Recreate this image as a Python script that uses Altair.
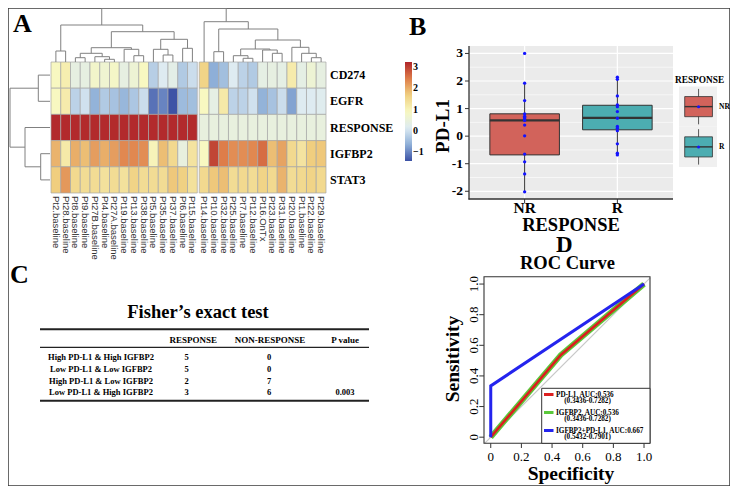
import altair as alt
import pandas as pd

# ---------------- Panel A: heatmap data ----------------
left_samples = ["Pt2.baseline", "Pt28.baseline", "Pt8.baseline", "Pt9.baseline", "Pt27B.baseline",
                "Pt4.baseline", "Pt27A.baseline", "Pt19.baseline", "Pt13.baseline", "Pt38.baseline",
                "Pt5.baseline", "Pt35.baseline", "Pt37.baseline", "Pt6.baseline", "Pt15.baseline"]
right_samples = ["Pt14.baseline", "Pt10.baseline", "Pt32.baseline", "Pt25.baseline", "Pt7.baseline",
                 "Pt12.baseline", "Pt16.OnTx", "Pt23.baseline", "Pt31.baseline", "Pt20.baseline",
                 "Pt1.baseline", "Pt22.baseline", "Pt29.baseline"]
genes = ["CD274", "EGFR", "RESPONSE", "IGFBP2", "STAT3"]

cd274 = [0.9, 1.1, 0.4, 0.4, 0.75, 0.65, 0.8, 0.4, 0.6, 0.9, -0.25, 0.15, 0.3, -0.3, -0.05,
         1.6, -0.65, -0.45, 0.15, -0.2, -0.3, 0.35, 0.4, 0.35, 1.15, 0.35, 0.6, 0.4]
egfr = [0.9, 1.15, -0.2, 0.0, -0.6, -0.3, -0.4, -0.55, -0.35, -0.05, -1.15, -1.0, -1.4, -0.5, -0.45,
        0.9, 0.35, 1.2, -0.2, -0.2, 0.0, -0.6, -0.4, -0.05, -0.75, 0.15, 0.15, 0.2]
response = [3.2, 3.2, 3.2, 3.2, 3.2, 3.2, 3.2, 3.2, 3.2, 3.2, 3.2, 3.2, 3.2, 3.2, 3.2,
            0.45, 0.45, 0.45, 0.45, 0.45, 0.45, 0.45, 0.45, 0.45, 0.45, 0.45, 0.45, 0.45]
igfbp2 = [1.95, 1.2, 2.0, 1.85, 2.15, 2.0, 2.15, 2.35, 2.35, 2.3, 1.0, 1.85, 1.5, 0.45, 1.3,
          0.9, 2.95, 2.45, 2.3, 2.3, 2.35, 2.6, 1.85, 2.1, 1.5, 1.3, 1.7, 1.75]
stat3 = [1.7, 2.2, 1.5, 1.45, 1.45, 1.35, 1.45, 1.35, 1.6, 1.45, 1.45, 1.45, 1.75, 1.65, 1.35,
         1.5, 1.75, 1.85, 1.45, 1.5, 1.45, 1.6, 1.5, 1.95, 1.45, 1.5, 1.6, 1.5]

heat_stops = [-1.42, -0.643, 0.133, 0.91, 1.687, 2.463, 3.24]
heat_colors = ["#3b51a5", "#8fb0d8", "#ddebf2", "#f8f8c0", "#f0cf80", "#de7c48", "#b0262a"]
colorbar_ticks = [-1, 0, 1, 2, 3]

# hclust-style merges: negative = leaf (1-based), positive = earlier merge (1-based), height
col_merges = [
    (-6, -7, 2.7), (-3, -4, 4.3), (-5, 1, 5.3), (-9, -10, 6.3), (-12, -13, 7.0),
    (2, 3, 8.7), (-1, -2, 11.0), (-8, 4, 12.7), (-11, 5, 12.7), (-14, -15, 13.7),
    (6, 8, 14.3), (9, 10, 22.7), (11, 12, 30.3), (7, 13, 37.0),
    (-20, -21, 3.7), (-27, -28, 4.3), (-19, 15, 6.3), (-23, -24, 8.7), (-26, 16, 8.7),
    (-17, -18, 10.3), (-22, 18, 12.0), (17, 21, 13.0), (-25, 19, 14.7), (22, 23, 22.0),
    (20, 24, 33.0), (-16, 25, 40.3), (14, 26, 53.7),
]
row_merges = [(-4, -5, 9.3), (-1, -2, 11.7), (-3, 1, 25.0), (2, 3, 40.0)]

# ---------------- Panel B: boxplot data ----------------
groups = ["NR", "R"]
group_fill = ["#d2635b", "#4cadb1"]
nr_values = [3.0, 1.92, 1.29, 0.81, 0.72, 0.68, 0.63, 0.57, 0.40, 0.01, -0.65, -0.93, -1.37, -2.02]
r_values = [2.14, 2.06, 1.46, 1.13, 1.07, 0.89, 0.65, 0.35, 0.29, 0.20, -0.28, -0.62, -0.68]
whisk_lo = [-2.02, -0.68]
box_q1 = [-0.68, 0.23]
box_med = [0.57, 0.66]
box_q3 = [0.81, 1.12]
whisk_hi = [1.92, 2.14]
b_ticks = [-2, -1, 0, 1, 2, 3]
b_minor = [-1.5, -0.5, 0.5, 1.5, 2.5]

# ---------------- Panel C: table data ----------------
tbl_rows = ["High PD-L1 & High IGFBP2", "Low PD-L1 & Low IGFBP2",
            "High PD-L1 & Low IGFBP2", "Low PD-L1 & High IGFBP2"]
tbl_resp = [5, 5, 2, 3]
tbl_nonresp = [0, 0, 7, 6]
tbl_p = ["", "", "", "0.003"]

# ---------------- Panel D: ROC data ----------------
pdl1_spec = [0, 0.457, 1]
pdl1_sens = [0, 0.537, 1]
igfbp2_spec = [0, 0.457, 1]
igfbp2_sens = [0, 0.537, 1]
combo_spec = [0, 0, 1]
combo_sens = [0, 0.335, 1]
roc_names = ["PD-L1, AUC:0.536", "IGFBP2, AUC:0.536", "IGFBP2+PD-L1, AUC:0.667"]
roc_ci = ["(0.3436-0.7282)", "(0.3436-0.7282)", "(0.5432-0.7901)"]
roc_colors = ["#dc1f1f", "#5ac83a", "#2424ee"]
roc_ticks = [0, 0.2, 0.4, 0.6, 0.8, 1.0]
roc_tick_labels = ["0", "0.2", "0.4", "0.6", "0.8", "1.0"]

# ---------------- helpers ----------------
SERIF = "Liberation Serif"
SANS = "Liberation Sans"


def px(v):
    return v - 8


def py(v):
    return v - 8


def sc(dom, rng):
    return alt.Scale(domain=dom, range=rng, nice=False, zero=False)


def QX(f, dom, rng):
    return alt.X(f, type="quantitative", scale=sc(dom, rng), axis=None)


def QY(f, dom, rng):
    return alt.Y(f, type="quantitative", scale=sc(dom, rng), axis=None)


ONE = pd.DataFrame({"k": [0]})


def label(text, x, y, size, weight="bold", font=SERIF, align="center",
          baseline="middle", angle=0, color="black"):
    kw = dict(font=font, fontSize=size, fontWeight=weight, align=align,
              baseline=baseline, color=color)
    if angle:
        kw["angle"] = angle
    return alt.Chart(pd.DataFrame({"t": [text]})).mark_text(**kw).encode(
        x=alt.value(px(x)), y=alt.value(py(y)), text="t:N")


def hline(x1, x2, y, w, color="#222222"):
    return alt.Chart(ONE).mark_rule(color=color, strokeWidth=w).encode(
        x=alt.value(px(x1)), x2=alt.value(px(x2)), y=alt.value(py(y)))


def dendro(merges, leafpos):
    nodes, out = [], []

    def get(ref):
        return (leafpos[-ref - 1], 0.0) if ref < 0 else nodes[ref - 1]

    for a, b, h in merges:
        (pa, ha), (pb, hb) = get(a), get(b)
        out.append(dict(p=pa, p2=pa, h=ha, h2=h))
        out.append(dict(p=pb, p2=pb, h=hb, h2=h))
        out.append(dict(p=pa, p2=pb, h=h, h2=h))
        nodes.append(((pa + pb) / 2, h))
    return pd.DataFrame(out)


layers = []

# ================= Panel A =================
samples = left_samples + right_samples
nleft = len(left_samples)
xpos = [i + (0.2 if i >= nleft else 0.0) for i in range(len(samples))]
gene_vals = [cd274, egfr, response, igfbp2, stat3]
recs = []
for r, g in enumerate(genes):
    for i, s in enumerate(samples):
        recs.append(dict(gene=g, sample=s, r=r, r2=r + 1, x=xpos[i], x2=xpos[i] + 1,
                         v=gene_vals[r][i]))
heat = pd.DataFrame(recs)
HXD, HXR = [0, len(samples) + 0.2], [px(51), px(326)]
HYD, HYR = [0, len(genes)], [py(62), py(193)]

layers.append(
    alt.Chart(heat).mark_rect(stroke="#a6a6a6", strokeWidth=0.7).encode(
        x=QX("x", HXD, HXR), x2="x2", y=QY("r", HYD, HYR), y2="r2",
        color=alt.Color("v:Q", scale=alt.Scale(domain=heat_stops, range=heat_colors,
                                               interpolate="rgb"),
                        legend=alt.Legend(orient="none", legendX=px(405), legendY=py(62),
                                          direction="vertical", gradientLength=99,
                                          gradientThickness=7, title=None,
                                          values=colorbar_ticks, labelFont=SERIF,
                                          labelFontSize=10, labelFontWeight="bold",
                                          labelColor="black", labelOffset=1,
                                          labelOverlap=False, gradientStrokeWidth=0))
    )
)

collab = pd.DataFrame({"s": samples, "x": [p + 0.5 for p in xpos]})
layers.append(
    alt.Chart(collab).mark_text(angle=90, align="left", baseline="middle", font=SANS,
                                fontSize=9.5, color="#333333").encode(
        x=QX("x", HXD, HXR), y=alt.value(py(196)), text="s:N")
)
rowlab = pd.DataFrame({"g": genes, "y": [i + 0.5 for i in range(len(genes))]})
layers.append(
    alt.Chart(rowlab).mark_text(align="left", baseline="middle", font=SERIF,
                                fontWeight="bold", fontSize=12).encode(
        x=alt.value(px(330)), y=QY("y", HYD, HYR), text="g:N")
)

top = dendro(col_merges, [p + 0.5 for p in xpos])
layers.append(
    alt.Chart(top).mark_rule(color="#808080", strokeWidth=1).encode(
        x=QX("p", HXD, HXR), x2="p2",
        y=QY("h", [0, 53.7], [py(62), py(8.3)]), y2="h2")
)
side = dendro(row_merges, [i + 0.5 for i in range(len(genes))])
layers.append(
    alt.Chart(side).mark_rule(color="#808080", strokeWidth=1).encode(
        x=QX("h", [0, 40], [px(50), px(10)]), x2="h2",
        y=QY("p", HYD, HYR), y2="p2")
)
layers.append(label("A", 13, 32, 26, align="left", baseline="alphabetic"))

# ================= Panel B =================
BXD, BXR = [0.4, 2.6], [px(469), px(673)]
BYD, BYR = [-2.28, 3.27], [py(199), py(46)]
bg = pd.DataFrame({"x0": [BXD[0]], "x1": [BXD[1]], "y0": [BYD[0]], "y1": [BYD[1]]})
layers.append(
    alt.Chart(bg).mark_rect(color="#ebebeb").encode(
        x=QX("x0", BXD, BXR), x2="x1", y=QY("y0", BYD, BYR), y2="y1")
)
layers.append(
    alt.Chart(pd.DataFrame({"v": b_minor})).mark_rule(color="white", strokeWidth=0.6).encode(
        y=QY("v", BYD, BYR), x=alt.value(px(469)), x2=alt.value(px(673)))
)
layers.append(
    alt.Chart(pd.DataFrame({"v": b_ticks})).mark_rule(color="white", strokeWidth=1.2).encode(
        y=QY("v", BYD, BYR), x=alt.value(px(469)), x2=alt.value(px(673)))
)
gpos = [i + 1 for i in range(len(groups))]
layers.append(
    alt.Chart(pd.DataFrame({"p": gpos})).mark_rule(color="white", strokeWidth=1.2).encode(
        x=QX("p", BXD, BXR), y=alt.value(py(46)), y2=alt.value(py(199)))
)
box = pd.DataFrame({"g": groups, "p": gpos, "lo": whisk_lo, "q1": box_q1, "med": box_med,
                    "q3": box_q3, "hi": whisk_hi})
box["pl"] = box["p"] - 0.375
box["pr"] = box["p"] + 0.375
layers.append(
    alt.Chart(box).mark_rule(color="#333333", strokeWidth=1).encode(
        x=QX("p", BXD, BXR), y=QY("lo", BYD, BYR), y2="q1")
)
layers.append(
    alt.Chart(box).mark_rule(color="#333333", strokeWidth=1).encode(
        x=QX("p", BXD, BXR), y=QY("q3", BYD, BYR), y2="hi")
)
layers.append(
    alt.Chart(box).mark_rect(stroke="#333333", strokeWidth=1).encode(
        x=QX("pl", BXD, BXR), x2="pr", y=QY("q1", BYD, BYR), y2="q3",
        color=alt.Color("g:N", scale=alt.Scale(domain=groups, range=group_fill), legend=None))
)
layers.append(
    alt.Chart(box).mark_rule(color="#333333", strokeWidth=2.2).encode(
        x=QX("pl", BXD, BXR), x2="pr", y=QY("med", BYD, BYR))
)
pts = pd.DataFrame({"p": [1] * len(nr_values) + [2] * len(r_values),
                    "v": nr_values + r_values})
layers.append(
    alt.Chart(pts).mark_circle(color="#1414ff", size=11, opacity=1).encode(
        x=QX("p", BXD, BXR), y=QY("v", BYD, BYR))
)
# axes
layers.append(
    alt.Chart(ONE).mark_rule(color="#333333", strokeWidth=1.3).encode(
        x=alt.value(px(469)), y=alt.value(py(46)), y2=alt.value(py(199.5)))
)
layers.append(hline(468.5, 673, 199, 1.3, "#333333"))
btk = pd.DataFrame({"v": b_ticks, "t": [str(v) for v in b_ticks]})
layers.append(
    alt.Chart(btk).mark_rule(color="#333333", strokeWidth=1).encode(
        y=QY("v", BYD, BYR), x=alt.value(px(465)), x2=alt.value(px(469)))
)
layers.append(
    alt.Chart(btk).mark_text(align="right", baseline="middle", font=SERIF, fontWeight="bold",
                             fontSize=13.5).encode(
        y=QY("v", BYD, BYR), x=alt.value(px(463)), text="t:N")
)
bxl = pd.DataFrame({"p": gpos, "g": groups})
layers.append(
    alt.Chart(bxl).mark_rule(color="#333333", strokeWidth=1).encode(
        x=QX("p", BXD, BXR), y=alt.value(py(199)), y2=alt.value(py(203)))
)
layers.append(
    alt.Chart(bxl).mark_text(align="center", baseline="alphabetic", font=SERIF,
                             fontWeight="bold", fontSize=15.5).encode(
        x=QX("p", BXD, BXR), y=alt.value(py(212.5)), text="g:N")
)
layers.append(label("PD-L1", 448.5, 126, 19, angle=270, baseline="alphabetic"))
layers.append(label("RESPONSE", 571, 230.5, 18.5, baseline="alphabetic"))
layers.append(label("B", 409, 35, 26, align="left", baseline="alphabetic"))
# legend of panel B (ggplot style keys)
LXD, LXR = [0, 1], [px(679), px(717)]
LYD, LYR = [0, 2], [py(86.5), py(167)]
lk = pd.DataFrame({"g": groups, "i": [0, 1]})
lk["i1"] = lk["i"] + 1
lk["b0"] = lk["i"] + 0.25
lk["b1"] = lk["i"] + 0.75
lk["w0"] = lk["i"] + 0.06
lk["w1"] = lk["i"] + 0.94
lk["c"] = lk["i"] + 0.5
lk["x0"] = 0.0
lk["x1"] = 1.0
lk["xl"] = 0.15
lk["xr"] = 0.88
lk["xm"] = 0.515
layers.append(
    alt.Chart(lk).mark_rect(color="#f0f0f0").encode(
        x=QX("x0", LXD, LXR), x2="x1", y=QY("i", LYD, LYR), y2="i1")
)
layers.append(
    alt.Chart(lk).mark_rule(color="#333333", strokeWidth=0.8).encode(
        x=QX("xm", LXD, LXR), y=QY("w0", LYD, LYR), y2="w1")
)
layers.append(
    alt.Chart(lk).mark_rect(stroke="#333333", strokeWidth=0.8).encode(
        x=QX("xl", LXD, LXR), x2="xr", y=QY("b0", LYD, LYR), y2="b1",
        color=alt.Color("g:N", scale=alt.Scale(domain=groups, range=group_fill), legend=None))
)
layers.append(
    alt.Chart(lk).mark_rule(color="#333333", strokeWidth=1.4).encode(
        x=QX("xl", LXD, LXR), x2="xr", y=QY("c", LYD, LYR))
)
layers.append(
    alt.Chart(lk).mark_circle(color="#1414ff", size=9, opacity=1).encode(
        x=QX("xm", LXD, LXR), y=QY("c", LYD, LYR))
)
layers.append(
    alt.Chart(lk).mark_text(align="left", baseline="middle", font=SERIF, fontWeight="bold",
                            fontSize=7.5).encode(
        x=alt.value(px(719)), y=QY("c", LYD, LYR), text="g:N")
)
layers.append(label("RESPONSE", 675, 83, 9.3, align="left", baseline="alphabetic"))

# ================= Panel C =================
layers.append(label("C", 10, 283, 26, align="left", baseline="alphabetic"))
layers.append(label("Fisher\u2019s exact test", 198, 317.5, 18.5, baseline="alphabetic"))
layers.append(hline(40, 369, 329.3, 2.0))
layers.append(hline(40, 369, 347.3, 1.3))
layers.append(hline(40, 369, 400.7, 2.0))
layers.append(label("RESPONSE", 193.3, 340, 9))
layers.append(label("NON-RESPONSE", 270, 340, 9))
layers.append(label("P value", 345, 340, 9))
table = pd.DataFrame({"i": list(range(len(tbl_rows))), "lab": tbl_rows,
                      "resp": [str(v) for v in tbl_resp],
                      "non": [str(v) for v in tbl_nonresp], "p": tbl_p})
for field, xc in [("lab", 101), ("resp", 186.7), ("non", 269), ("p", 345)]:
    layers.append(
        alt.Chart(table).mark_text(align="center", baseline="middle", font=SERIF,
                                   fontWeight="bold", fontSize=8.5).encode(
            x=alt.value(px(xc)), y=QY("i", [0, 3], [py(356.7), py(392.4)]),
            text=alt.Text(f"{field}:N"))
    )

# ================= Panel D =================
RXD, RXR = [-0.044, 1.039], [px(484), px(650)]
RYD, RYR = [-0.04, 1.048], [py(443.3), py(276.7)]
diag = pd.DataFrame({"a": [-0.04, 1.04], "k": [0, 1]})
layers.append(
    alt.Chart(diag).mark_line(color="#c8c8c8", strokeWidth=1.2, clip=True).encode(
        x=QX("a", RXD, RXR), y=QY("a", RYD, RYR), order="k:Q")
)
curves = [(igfbp2_spec, igfbp2_sens, roc_colors[1], 5.5),
          (pdl1_spec, pdl1_sens, roc_colors[0], 2.6),
          (combo_spec, combo_sens, roc_colors[2], 3.0)]
for sp, se, col, w in curves:
    d = pd.DataFrame({"spec": sp, "sens": se, "k": list(range(len(sp)))})
    layers.append(
        alt.Chart(d).mark_line(color=col, strokeWidth=w).encode(
            x=QX("spec", RXD, RXR), y=QY("sens", RYD, RYR), order="k:Q")
    )
frame = pd.DataFrame({"x0": [RXD[0]], "x1": [RXD[1]], "y0": [RYD[0]], "y1": [RYD[1]]})
layers.append(
    alt.Chart(frame).mark_rect(fillOpacity=0, stroke="#333333", strokeWidth=1.1).encode(
        x=QX("x0", RXD, RXR), x2="x1", y=QY("y0", RYD, RYR), y2="y1")
)
rtk = pd.DataFrame({"v": roc_ticks, "t": roc_tick_labels})
layers.append(
    alt.Chart(rtk).mark_rule(color="#333333", strokeWidth=1).encode(
        x=QX("v", RXD, RXR), y=alt.value(py(443.3)), y2=alt.value(py(448)))
)
layers.append(
    alt.Chart(rtk).mark_rule(color="#333333", strokeWidth=1).encode(
        y=QY("v", RYD, RYR), x=alt.value(px(479.3)), x2=alt.value(px(484)))
)
layers.append(
    alt.Chart(rtk).mark_text(align="center", baseline="alphabetic", font=SERIF,
                             fontSize=13).encode(
        x=QX("v", RXD, RXR), y=alt.value(py(461)), text="t:N")
)
layers.append(
    alt.Chart(rtk).mark_text(align="center", baseline="alphabetic", font=SERIF,
                             fontSize=13, angle=270).encode(
        y=QY("v", RYD, RYR), x=alt.value(px(477.5)), text="t:N")
)
layers.append(label("Specificity", 571, 480, 19.5, baseline="alphabetic"))
layers.append(label("Sensitivity", 459, 359, 19.5, angle=270, baseline="alphabetic"))
layers.append(label("ROC Curve", 567.5, 269, 18.5, baseline="alphabetic"))
layers.append(label("D", 556, 252, 23, align="left", baseline="alphabetic"))
# legend box
layers.append(
    alt.Chart(ONE).mark_rect(fill="white", stroke="#333333", strokeWidth=1).encode(
        x=alt.value(px(541.7)), x2=alt.value(px(650)),
        y=alt.value(py(388.3)), y2=alt.value(py(443.3)))
)
leg = pd.DataFrame({"i": list(range(len(roc_names))), "name": roc_names, "ci": roc_ci})
LGY = QY("i", [0, 2], [py(394.5), py(430.5)])
roc_color = alt.Color("name:N", scale=alt.Scale(domain=roc_names, range=roc_colors),
                      legend=None)
layers.append(
    alt.Chart(leg).mark_rule(strokeWidth=3).encode(
        x=alt.value(px(544)), x2=alt.value(px(553.5)), y=LGY, color=roc_color)
)
layers.append(
    alt.Chart(leg).mark_text(align="left", baseline="middle", font=SERIF, fontWeight="bold",
                             fontSize=7.2).encode(
        x=alt.value(px(556)), y=LGY, text="name:N")
)
layers.append(
    alt.Chart(leg).mark_text(align="center", baseline="middle", font=SERIF, fontWeight="bold",
                             fontSize=7.2, dy=6.6).encode(
        x=alt.value(px(587.5)), y=LGY, text="ci:N")
)

chart = alt.layer(*layers).resolve_scale(
    x="independent", y="independent", color="independent"
).properties(
    width=722, height=478, padding=0, autosize="none"
).configure_view(stroke="#3a3a3a", strokeWidth=1.5)

chart.save("out.html", embed_options={"renderer": "svg", "actions": False})
